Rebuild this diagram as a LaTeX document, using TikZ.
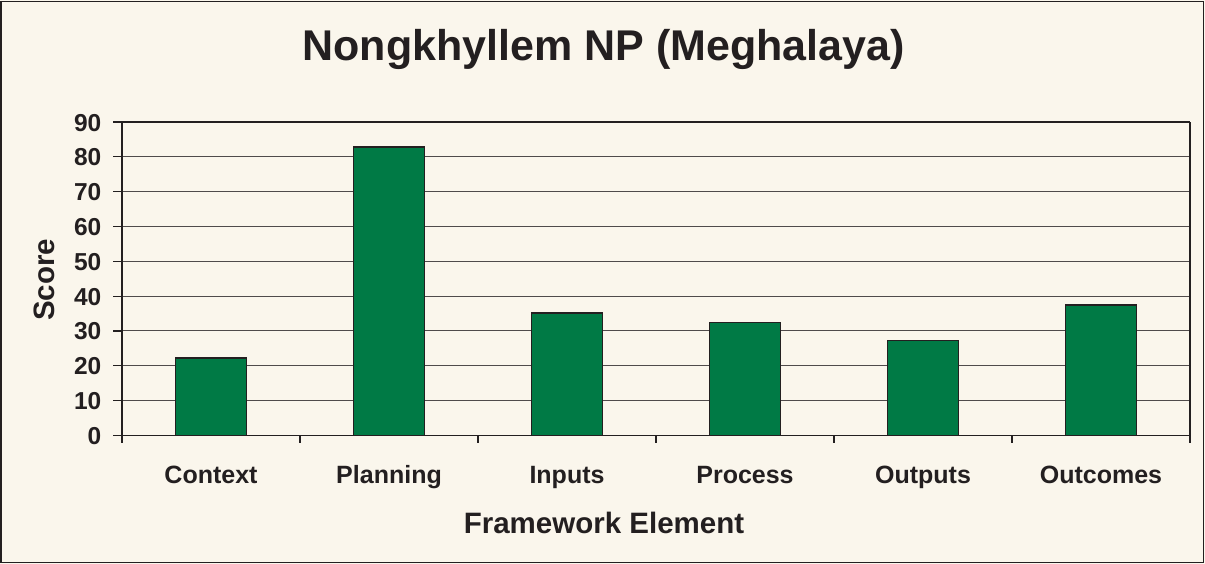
\documentclass[tikz,border=0pt]{standalone}
\usepackage{fontspec}
\setmainfont{Liberation Sans}
\definecolor{bg}{HTML}{FAF6EC}
\definecolor{ink}{HTML}{231F20}
\definecolor{grid}{HTML}{4F4B4B}
\definecolor{bar}{HTML}{007A45}
\tikzset{
  gridln/.style={draw=grid, line width=1.1pt},
  axisln/.style={draw=ink, line width=1.2pt},
  barbox/.style={fill=bar, draw=ink, line width=1.4pt},
  ticklbl/.style={font=\bfseries\fontsize{24.5}{24.5}\selectfont, text=ink, inner sep=0pt},
  catlbl/.style={font=\bfseries\fontsize{25}{25}\selectfont, text=ink, inner sep=0pt, anchor=base},
  axtitle/.style={font=\bfseries\fontsize{29.5}{29.5}\selectfont, text=ink, inner sep=0pt},
}
\begin{document}
\begin{tikzpicture}[x=1pt,y=-1pt]
\useasboundingbox (0,0) rectangle (1205,564);
\fill[bg] (0,0) rectangle (1205,564);
\draw[draw=ink, line width=1.6pt] (1,1.5) rectangle (1203.5,562.5);
% gridlines
\foreach \v in {10,20,...,80}{
  \draw[gridln] (122,{435.3-\v*3.48}) -- (1190,{435.3-\v*3.48});
}
% left ticks and labels
\foreach \v in {0,10,...,90}{
  \draw[axisln] (113,{435.3-\v*3.48}) -- (122,{435.3-\v*3.48});
  \node[ticklbl, anchor=base east] (t\v) at (101.5,{435.3-\v*3.48+9}) {\v};
}
% bars
\foreach \i/\val/\lab [count=\k from 0] in {0/22.2/Context,1/82.8/Planning,2/35.1/Inputs,3/32.5/Process,4/27.3/Outputs,5/37.4/Outcomes}{
  \pgfmathsetmacro{\c}{122+178*(\i+0.5)}
  \draw[barbox] ({\c-35.6},435.3) rectangle ({\c+35.6},{435.3-\val*3.48});
  \node[catlbl] (c\i) at (\c,483) {\lab};
}
% plot frame
\draw[axisln] (122,122.1) -- (1190,122.1);
\draw[axisln] (122,122.1) -- (122,443);
\draw[axisln] (1190,122.1) -- (1190,443);
\draw[axisln] (113,435.3) -- (1190,435.3);
% bottom ticks
\foreach \i in {1,...,5}{
  \draw[axisln] ({122+178*\i},435.3) -- ({122+178*\i},443);
}
% titles
\node[font=\bfseries\fontsize{43}{43}\selectfont, text=ink, inner sep=0pt, anchor=base] (title) at (603.5,60.5) {Nongkhyllem NP (Meghalaya)};
\node[axtitle, anchor=base] (xt) at (604,533) {Framework Element};
\node[axtitle, anchor=base, rotate=90] (yt) at (54,280) {Score};
\end{tikzpicture}
\end{document}
